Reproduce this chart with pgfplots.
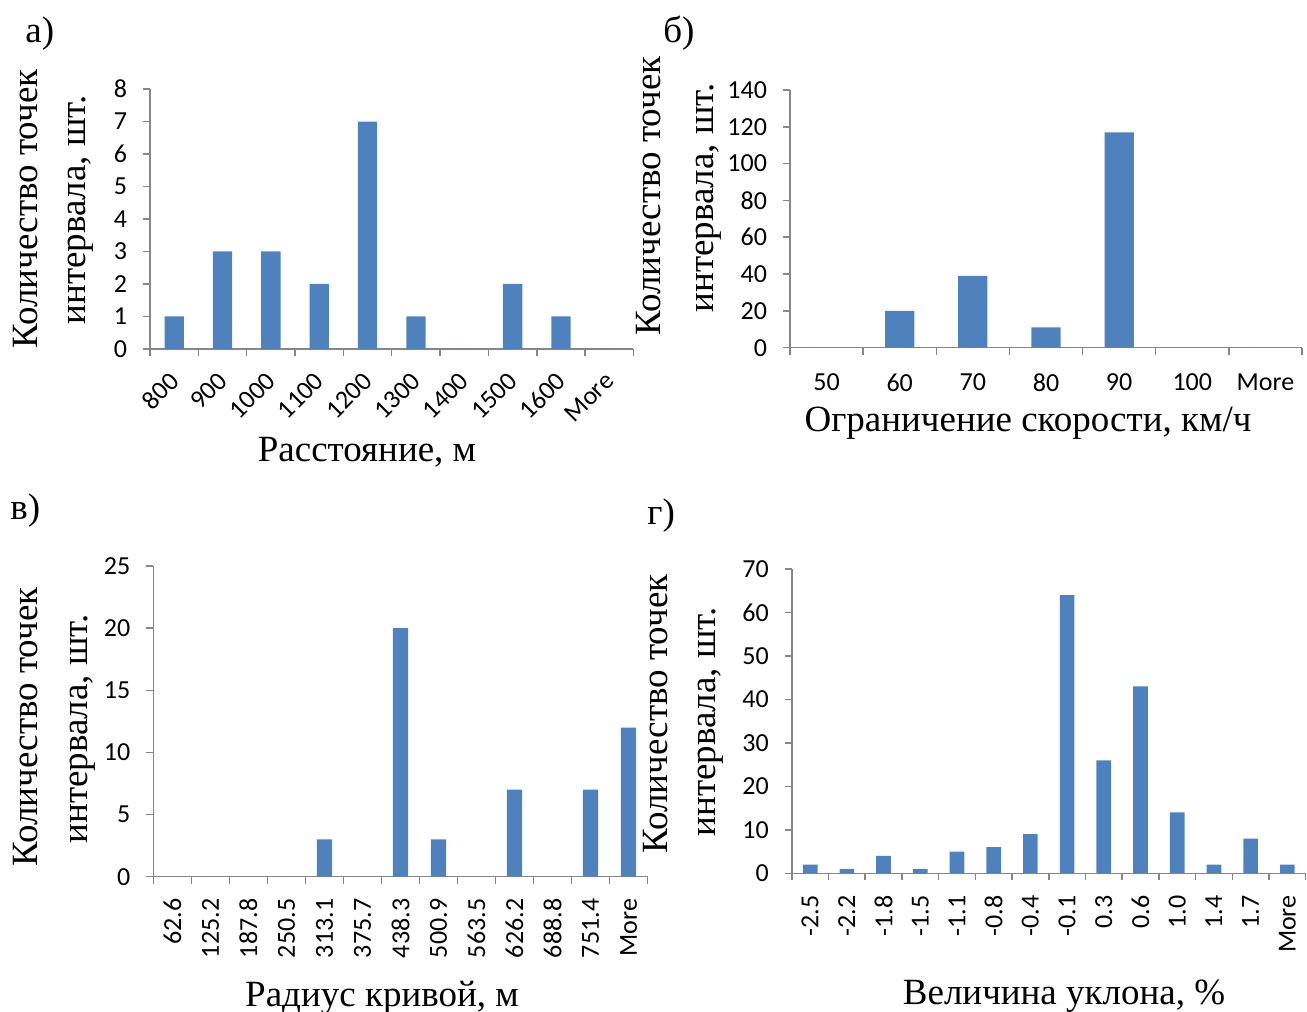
\documentclass[border=0pt]{standalone}
\usepackage{pgfplots}
\pgfplotsset{compat=1.18}
\usepackage{fontspec}
\setmainfont{Liberation Serif}
\newfontfamily\calibri{Carlito}

\definecolor{barblue}{HTML}{4F81BD}
\definecolor{axisgray}{HTML}{868686}

\newcommand\labfont{\fontsize{18.5}{22}\selectfont}
\newcommand\tickfont{\calibri\fontsize{13}{15}\selectfont}

\pgfplotsset{
  histo/.style={
    scale only axis,
    anchor=south west,
    axis x line=bottom,
    axis y line=left,
    axis line style={draw=axisgray, line width=0.75pt, -},
    every tick/.style={draw=axisgray, line width=0.75pt},
    tick align=outside,
    major tick length=3.5pt,
    x tick label as interval,
    ymin=0,
    ybar,
    bar width=0.4,
    tick label style={font=\tickfont},
    yticklabel style={xshift=-4.5pt},
    /pgf/number format/assume math mode=true,
  },
  bars/.style={fill=barblue, draw=none},
}

\begin{document}
\begin{tikzpicture}
\useasboundingbox (0,0) rectangle (653.5pt,506pt);

% а) distance between points
\begin{axis}[histo,
  at={(75pt,331.5pt)}, width=241.75pt, height=130pt,
  xmin=-0.5, xmax=9.5, ymax=8, ytick={0,1,...,8},
  xtick={-0.5,0.5,...,9.5},
  xticklabels={800,900,1000,1100,1200,1300,1400,1500,1600,More},
  xticklabel style={xshift=2.5pt, yshift=-8pt, rotate=45, anchor=east},
]
\addplot[bars] coordinates {(0,1) (1,3) (2,3) (3,2) (4,7) (5,1) (6,0) (7,2) (8,1) (9,0)};
\end{axis}

% б) speed limit
\begin{axis}[histo,
  at={(395pt,332.15pt)}, width=256pt, height=128.85pt,
  xmin=-0.5, xmax=6.5, ymax=140, ytick={0,20,...,140},
  xtick={-0.5,0.5,...,6.5},
  xticklabels={50,60,70,80,90,100,More},
  xticklabel style={yshift=-6pt},
]
\addplot[bars] coordinates {(0,0) (1,20) (2,39) (3,11) (4,117) (5,0) (6,0)};
\end{axis}

% в) curve radius
\begin{axis}[histo,
  at={(76.7pt,67.65pt)}, width=247.1pt, height=155.35pt,
  xmin=-0.5, xmax=12.5, ymax=25, ytick={0,5,...,25},
  xtick={-0.5,0.5,...,12.5},
  xticklabels={62.6,125.2,187.8,250.5,313.1,375.7,438.3,500.9,563.5,626.2,688.8,751.4,More},
  xticklabel style={yshift=-4pt, rotate=90, anchor=east},
]
\addplot[bars] coordinates {(0,0) (1,0) (2,0) (3,0) (4,3) (5,0) (6,20) (7,3) (8,0) (9,7) (10,0) (11,7) (12,12)};
\end{axis}

% г) gradient
\begin{axis}[histo,
  at={(395.9pt,69.35pt)}, width=256.95pt, height=152.15pt,
  xmin=-0.5, xmax=13.5, ymax=70, ytick={0,10,...,70},
  xtick={-0.5,0.5,...,13.5},
  xticklabels={-2.5,-2.2,-1.8,-1.5,-1.1,-0.8,-0.4,-0.1,0.3,0.6,1.0,1.4,1.7,More},
  xticklabel style={yshift=-4pt, rotate=90, anchor=east},
]
\addplot[bars] coordinates {(0,2) (1,1) (2,4) (3,1) (4,5) (5,6) (6,9) (7,64) (8,26) (9,43) (10,14) (11,2) (12,8) (13,2)};
\end{axis}

% titles and axis captions
\begin{scope}[x=0.5pt, y=-0.5pt, shift={(0,506pt)}, every node/.style={font=\labfont, inner sep=0pt}]
  \node[anchor=base west] at (25,43) {а)};
  \node[anchor=base west] at (663,43) {б)};
  \node[anchor=base west] at (10,520) {в)};
  \node[anchor=base west] at (647,525) {г)};

  \node[anchor=base] at (367,462) {Расстояние, м};
  \node[anchor=base] at (1028,432) {Ограничение скорости, км/ч};
  \node[anchor=base] at (382,1007) {Радиус кривой, м};
  \node[anchor=base] at (1064,1005) {Величина уклона, \%};

  \node[rotate=90, anchor=base] at (37,209) {Количество точек};
  \node[rotate=90, anchor=base] at (85,210) {интервала, шт.};
  \node[rotate=90, anchor=base] at (660,196) {Количество точек};
  \node[rotate=90, anchor=base] at (713,198) {интервала, шт.};
  \node[rotate=90, anchor=base] at (37,727) {Количество точек};
  \node[rotate=90, anchor=base] at (87,729) {интервала, шт.};
  \node[rotate=90, anchor=base] at (667,714) {Количество точек};
  \node[rotate=90, anchor=base] at (715,722) {интервала, шт.};
\end{scope}
\end{tikzpicture}
\end{document}
